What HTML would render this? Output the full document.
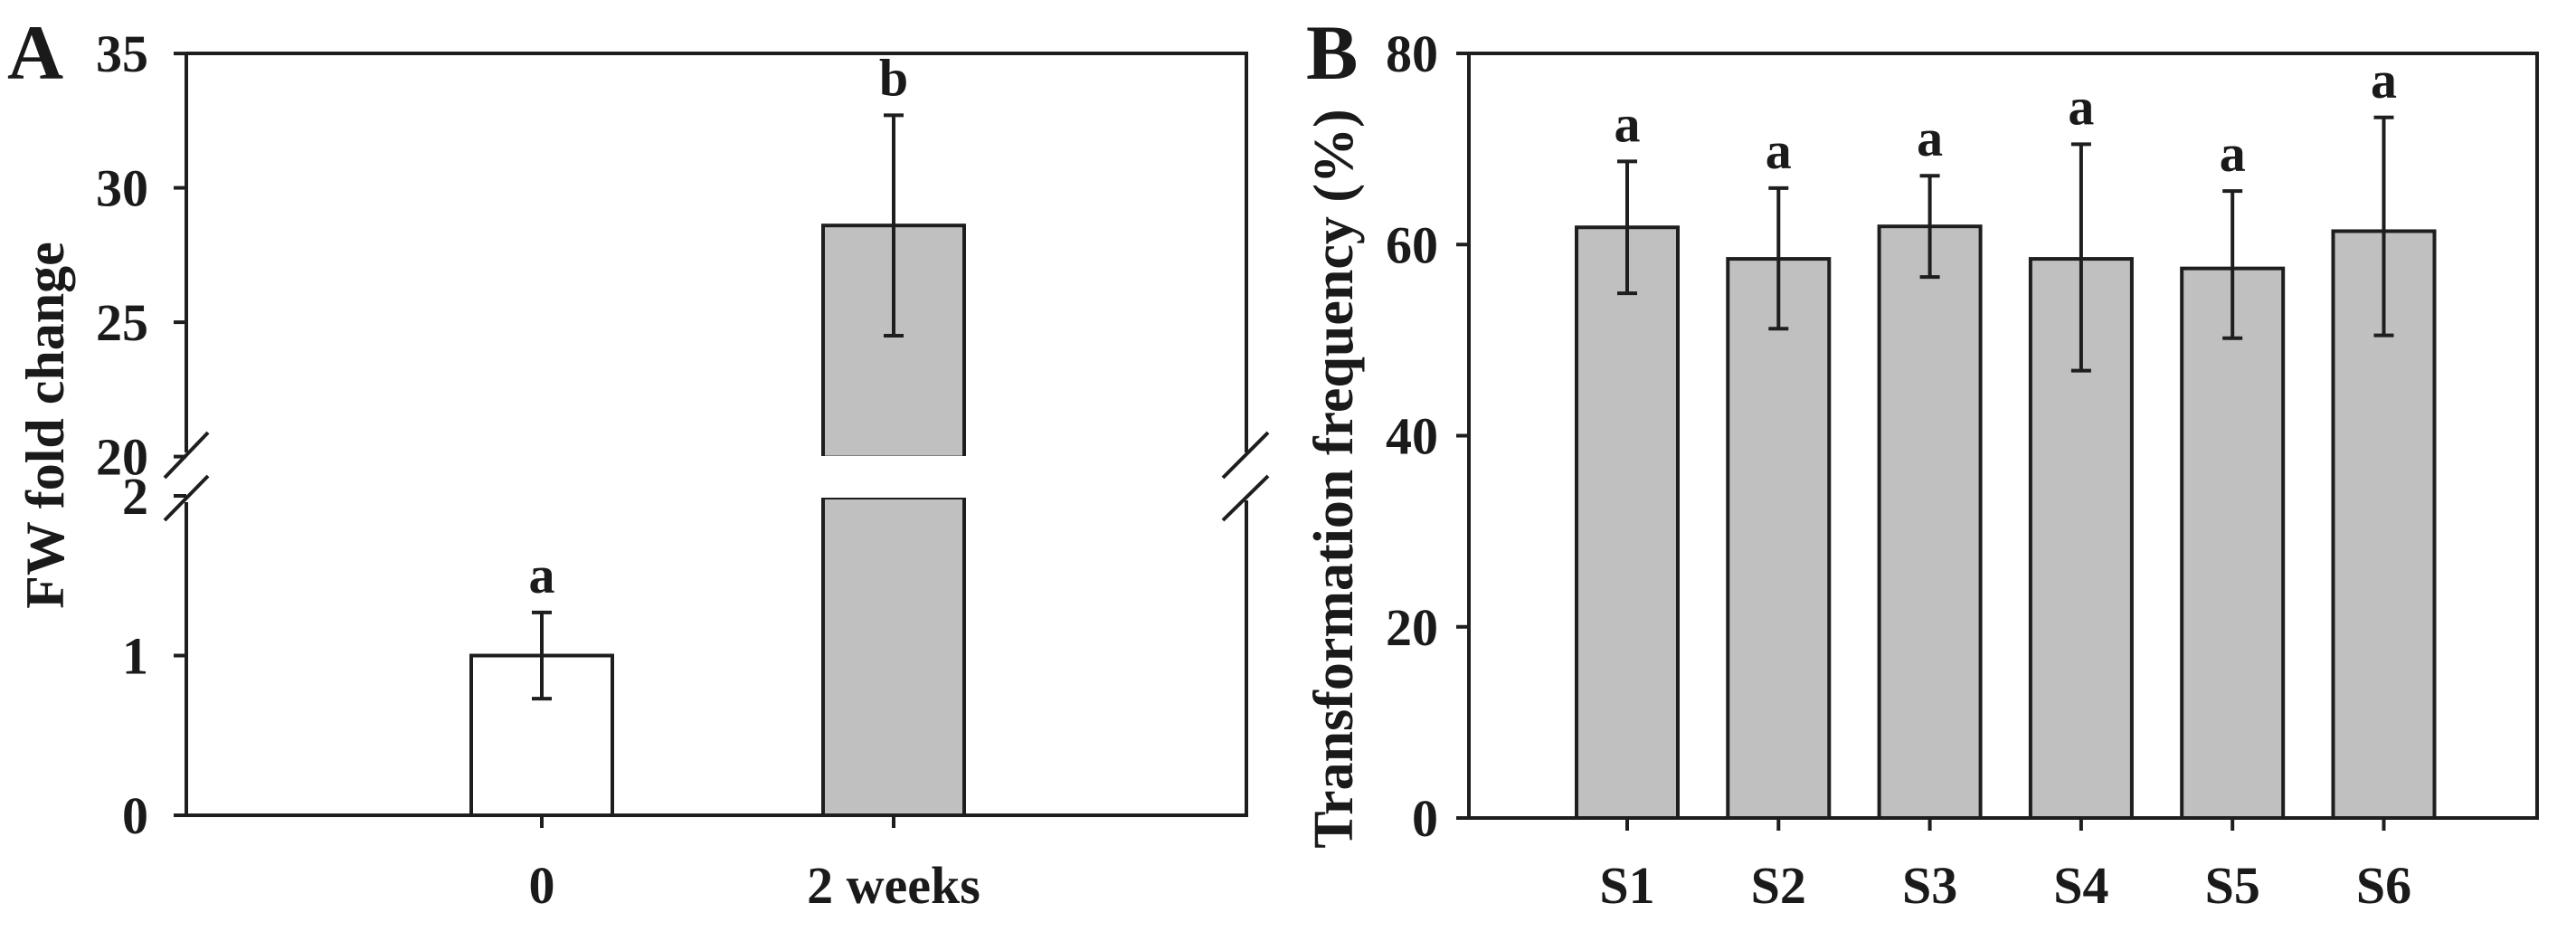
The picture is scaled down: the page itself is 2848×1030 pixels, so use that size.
<!DOCTYPE html>
<html><head><meta charset="utf-8"><style>
html,body{margin:0;padding:0;background:#fff;}
svg{display:block;}
text{font-family:"Liberation Serif",serif;font-weight:bold;fill:#1a1a1a;}
</style></head><body>
<svg id="chart" width="2848" height="1030" viewBox="0 0 2848 1030" xmlns="http://www.w3.org/2000/svg">
<g id="panelA"></g>
<g id="panelB"></g>
</svg>
<script>
// Panel A data
const aCategories = ["0", "2 weeks"];
const aValues = [1.0, 28.6];
const aErrUp = [1.27, 32.7];
const aErrLo = [0.73, 24.5];
const aLetters = ["a", "b"];
const aLowerTicks = [0, 1, 2];
const aUpperTicks = [20, 25, 30, 35];
// Panel B data
const bCategories = ["S1", "S2", "S3", "S4", "S5", "S6"];
const bValues = [61.8, 58.5, 61.9, 58.5, 57.5, 61.4];
const bErrUp = [68.7, 65.9, 67.2, 70.5, 65.6, 73.3];
const bErrLo = [54.9, 51.2, 56.6, 46.8, 50.2, 50.5];
const bLetters = ["a", "a", "a", "a", "a", "a"];
const bTicks = [0, 20, 40, 60, 80];

const NS = "http://www.w3.org/2000/svg";
function mk(parent, tag, attrs, txt) {
  const e = document.createElementNS(NS, tag);
  for (const k in attrs) e.setAttribute(k, attrs[k]);
  if (txt !== undefined) e.textContent = txt;
  parent.appendChild(e);
  return e;
}
const LC = "#1e1e1e";

// ---------- Panel A ----------
const A = document.getElementById("panelA");
const aL = 206, aR = 1378, aT = 59, aB = 901;
function yLow(v) { return aB - v * 176.5; }
function yUp(v) { return 504.6 - (v - 20) * 29.7; }
function yA(v) { return v <= 2 ? yLow(v) : yUp(v); }
const aCenters = [599, 988];
const aBarW = 156;
function xA(i) { return aCenters[i]; }

let e;
aValues.forEach((v, i) => {
  const x0 = xA(i) - aBarW / 2;
  if (v <= 2) {
    e = mk(A, "rect", {x: x0, y: yA(v), width: aBarW, height: aB - yA(v), fill: "#fff", stroke: LC, "stroke-width": 4});
    
    
  } else {
    e = mk(A, "rect", {x: x0, y: yA(v), width: aBarW, height: 504.6 - yA(v) + 1, fill: "#c0c0c0", stroke: LC, "stroke-width": 4});
    
    
    e = mk(A, "rect", {x: x0, y: 550, width: aBarW, height: aB - 550, fill: "#c0c0c0", stroke: LC, "stroke-width": 4});
    
    
    e = mk(A, "rect", {x: x0 - 3, y: 504, width: aBarW + 6, height: 46, fill: "#fff"});
    
    
  }
  const cx = xA(i), yt = yA(aErrUp[i]), yb = yA(aErrLo[i]);
  e = mk(A, "path", {d: `M${cx} ${yt}V${yb}M${cx-11} ${yt}H${cx+11}M${cx-11} ${yb}H${cx+11}`, stroke: LC, "stroke-width": 4, fill: "none"});
  
  
  e = mk(A, "text", {x: cx, y: yt - 22, "text-anchor": "middle", "font-size": 58}, aLetters[i]);
  
  
  e = mk(A, "text", {x: cx, y: 998, "text-anchor": "middle", "font-size": 58}, aCategories[i]);
  
  
  e = mk(A, "line", {x1: cx, y1: aB, x2: cx, y2: aB + 14, stroke: LC, "stroke-width": 4});
  
  
});
e = mk(A, "path", {d: `M${aL} ${aT}H${aR}V500M${aR} 553V${aB}H${aL}V555M${aL} 500V${aT}`, stroke: LC, "stroke-width": 4, fill: "none"});


e = mk(A, "path", {d: "M182 528L230 478M182 575L230 526M1352 528L1402 478M1352 575L1402 526", stroke: LC, "stroke-width": 4, fill: "none"});


aLowerTicks.concat(aUpperTicks).forEach(t => {
  const y = yA(t);
  e = mk(A, "line", {x1: aL - 14, y1: y, x2: aL, y2: y, stroke: LC, "stroke-width": 4});
  
  
  e = mk(A, "text", {x: 164, y: y + 20, "text-anchor": "end", "font-size": 58}, String(t));
  
  
});
e = mk(A, "text", {x: 0, y: 0, "text-anchor": "middle", "font-size": 60, transform: "translate(70,470) rotate(-90)"}, "FW fold change");


e = mk(A, "text", {x: 8, y: 87, "font-size": 86}, "A");



// ---------- Panel B ----------
const B = document.getElementById("panelB");
const bL = 1624, bR = 2805, bT = 59, bB = 904;
function yB(v) { return bB - v * (bB - bT) / 80; }
function xB(i) { return 1799 + i * 167.3; }
const bBarW = 112;
bValues.forEach((v, i) => {
  const cx = xB(i);
  e = mk(B, "rect", {x: cx - bBarW / 2, y: yB(v), width: bBarW, height: bB - yB(v), fill: "#c0c0c0", stroke: LC, "stroke-width": 4});
  
  
  const yt = yB(bErrUp[i]), yb = yB(bErrLo[i]);
  e = mk(B, "path", {d: `M${cx} ${yt}V${yb}M${cx-11} ${yt}H${cx+11}M${cx-11} ${yb}H${cx+11}`, stroke: LC, "stroke-width": 4, fill: "none"});
  
  
  e = mk(B, "text", {x: cx, y: yt - 22, "text-anchor": "middle", "font-size": 58}, bLetters[i]);
  
  
  e = mk(B, "text", {x: cx, y: 998, "text-anchor": "middle", "font-size": 58}, bCategories[i]);
  
  
  e = mk(B, "line", {x1: cx, y1: bB, x2: cx, y2: bB + 14, stroke: LC, "stroke-width": 4});
  
  
});
e = mk(B, "rect", {x: bL, y: bT, width: bR - bL, height: bB - bT, fill: "none", stroke: LC, "stroke-width": 4});


bTicks.forEach(t => {
  const y = yB(t);
  e = mk(B, "line", {x1: bL - 14, y1: y, x2: bL, y2: y, stroke: LC, "stroke-width": 4});
  
  
  e = mk(B, "text", {x: 1590, y: y + 20, "text-anchor": "end", "font-size": 58}, String(t));
  
  
});
e = mk(B, "text", {x: 0, y: 0, "text-anchor": "middle", "font-size": 62, transform: "translate(1495,529) rotate(-90)"}, "Transformation frequency (%)");


e = mk(B, "text", {x: 1444, y: 87, "font-size": 86}, "B");


</script>
</body></html>
